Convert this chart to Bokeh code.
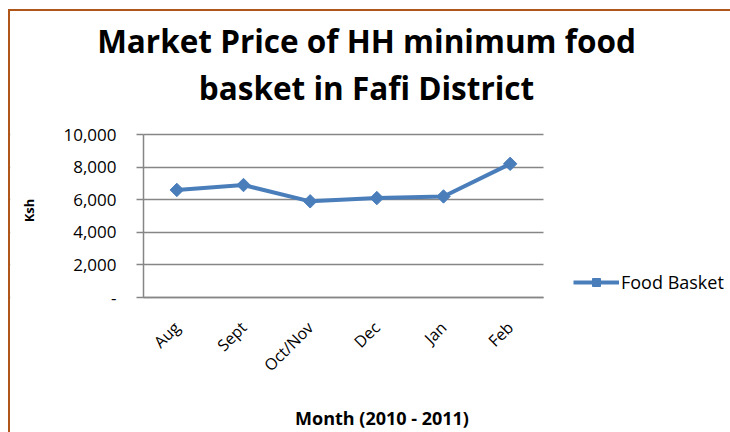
import math
from bokeh.plotting import figure
from bokeh.models import (Label, Legend, LegendItem, FixedTicker,
                          NumeralTickFormatter, Range1d, BoxAnnotation)
from bokeh.embed import file_html
from bokeh.resources import INLINE

# ---- data ----
months = ["Aug", "Sept", "Oct/Nov", "Dec", "Jan", "Feb"]
food_basket = [6600, 6900, 5900, 6100, 6200, 8200]
y_ticks = [0, 2000, 4000, 6000, 8000, 10000]
title_lines = ["Market Price of HH minimum food", "basket in Fafi District"]
x_label = "Month (2010 - 2011)"
y_label = "Ksh"
series_name = "Food Basket"

LINE_COLOR = "#4A7EBB"
GRID_COLOR = "#868686"
BORDER_COLOR = "#B1561A"
FONT = "Open Sans"

x_pos = list(range(len(months)))
n = len(months)

# layout (pixels): canvas 720x421; plotting area 400x163 placed at (133, 123) from top-left
CW, CH = 720, 421
PL, PT, PW, PH = 133, 123, 400, 163
ux = PW / n
uy = PH / y_ticks[-1]
x_start = -0.5 - PL / ux
x_end = -0.5 + (CW - PL) / ux
y_start = -(CH - PT - PH) / uy
y_end = y_ticks[-1] + PT / uy

p = figure(title=None, x_range=Range1d(x_start, x_end), y_range=Range1d(y_start, y_end),
           frame_width=CW, frame_height=CH,
           min_border_left=0, min_border_right=0,
           min_border_top=0, min_border_bottom=0,
           output_backend="svg", toolbar_location=None)
p.styles = {"margin-left": "8px", "margin-top": "9px",
            "border-top": f"2px solid {BORDER_COLOR}",
            "border-left": f"2px solid {BORDER_COLOR}"}
p.outline_line_color = None
p.background_fill_color = "white"
p.border_fill_color = "white"

# y axis
ya = p.yaxis[0]
ya.fixed_location = -0.5
ya.ticker = FixedTicker(ticks=y_ticks)
ya.bounds = (y_ticks[0], y_ticks[-1])
ya.formatter = NumeralTickFormatter(format="0,0")
ya.major_label_overrides = {0: "-"}
ya.axis_line_color = GRID_COLOR
ya.axis_line_width = 1.5
ya.major_tick_line_color = GRID_COLOR
ya.major_tick_line_width = 1.5
ya.major_tick_out = 7
ya.major_tick_in = 0
ya.minor_tick_line_color = None
ya.major_label_standoff = 20
ya.major_label_text_font = FONT
ya.major_label_text_font_size = "17px"
ya.major_label_text_color = "#000000"

# x axis
xa = p.xaxis[0]
xa.fixed_location = 0
xa.ticker = FixedTicker(ticks=x_pos)
xa.major_label_overrides = {i: m for i, m in zip(x_pos, months)}
xa.bounds = (-0.5, n - 0.5)
xa.axis_line_color = GRID_COLOR
xa.axis_line_width = 1.5
xa.major_tick_line_color = None
xa.minor_tick_line_color = None
xa.major_label_orientation = math.pi / 4
xa.major_label_standoff = 21
xa.major_label_text_font = FONT
xa.major_label_text_font_size = "16px"
xa.major_label_text_color = "#000000"

p.xgrid.grid_line_color = None
p.ygrid.grid_line_color = GRID_COLOR
p.ygrid.grid_line_width = 1.5
p.ygrid.ticker = FixedTicker(ticks=y_ticks)

# keep gridlines inside the category area
p.add_layout(BoxAnnotation(left=n - 0.5, fill_color="white", fill_alpha=1.0,
                           line_color=None, level="underlay"))
p.add_layout(BoxAnnotation(right=-0.5, fill_color="white", fill_alpha=1.0,
                           line_color=None, level="underlay"))

# series
ln = p.line(x_pos, food_basket, line_color=LINE_COLOR, line_width=4)
mk = p.scatter(x_pos, food_basket, marker="square", angle=math.pi / 4, size=9.5,
               fill_color=LINE_COLOR, line_color=LINE_COLOR)

legend = Legend(items=[LegendItem(label=series_name, renderers=[ln, mk])],
                location=(563, 138), glyph_width=46, glyph_height=20,
                label_standoff=2, padding=0, margin=0, spacing=0,
                border_line_color=None, background_fill_alpha=0,
                label_text_font=FONT, label_text_font_size="18px",
                label_text_color="#000000")
p.add_layout(legend, "center")

# texts (screen units from the canvas bottom-left)
BASE_FIX = 10  # compensation for the alphabetic baseline placement
for txt, yb in zip(title_lines, [432 - 50 + BASE_FIX, 432 - 96.7 + BASE_FIX]):
    p.add_layout(Label(x=356, y=yb, x_units="screen", y_units="screen",
                       text=txt, text_align="center", text_baseline="alphabetic",
                       text_font=FONT, text_font_style="bold", text_font_size="31.5px",
                       text_color="#000000"))
p.add_layout(Label(x=371.5, y=10 + BASE_FIX * 0.5, x_units="screen", y_units="screen",
                   text=x_label, text_align="center", text_baseline="alphabetic",
                   text_font=FONT, text_font_style="bold", text_font_size="18px",
                   text_color="#000000"))
p.add_layout(Label(x=18, y=222, x_units="screen", y_units="screen", angle=math.pi / 2,
                   text=y_label, text_align="center", text_baseline="middle",
                   text_font=FONT, text_font_style="bold", text_font_size="13px",
                   text_color="#000000"))

open("out.html", "w").write(file_html(p, INLINE))
